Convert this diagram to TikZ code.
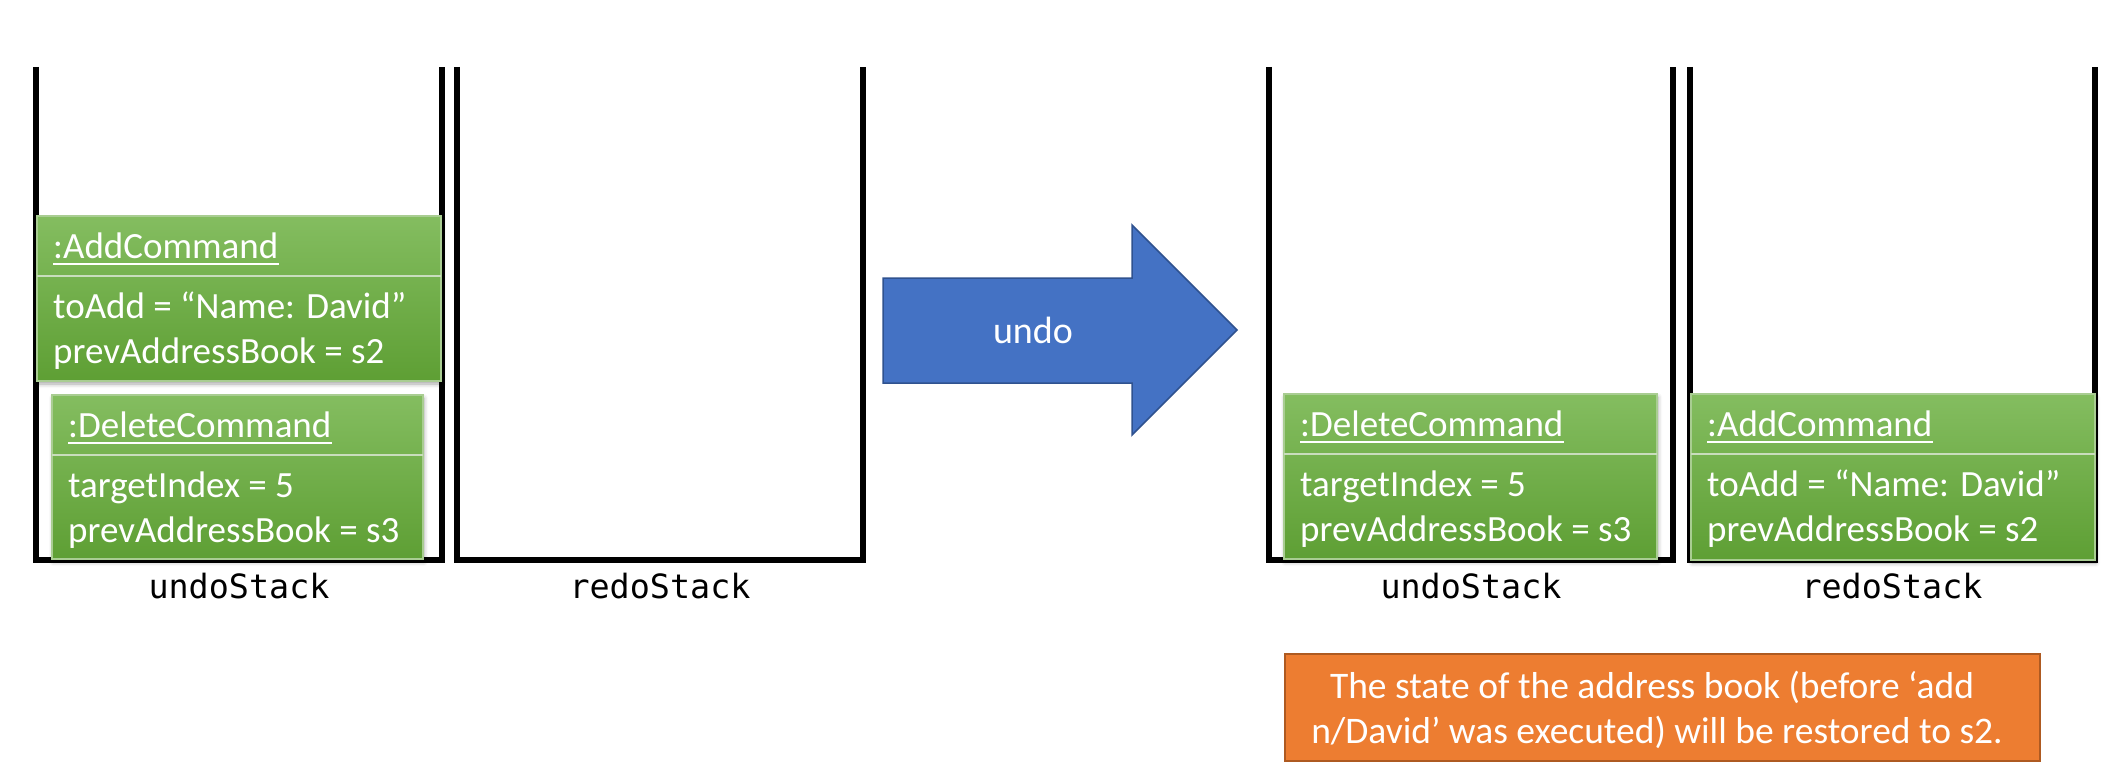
\documentclass[tikz,border=0pt]{standalone}
\usepackage{fontspec}
\setmainfont{Carlito}
\newfontfamily\monofont{DejaVu Sans Mono}
\usetikzlibrary{shadows.blur}
\definecolor{gtop}{HTML}{84BD60}
\definecolor{gbot}{HTML}{5E9F34}
\definecolor{gline}{HTML}{A9CD92}
\definecolor{gdiv}{HTML}{C9DDBD}
\definecolor{ablue}{HTML}{4472C4}
\definecolor{ablueb}{HTML}{2F528F}
\definecolor{orfill}{HTML}{ED7D31}
\definecolor{orline}{HTML}{AE5A21}
\tikzset{
  wall/.style={line width=6pt, black, line join=miter},
  cmdfill/.style={top color=gtop, bottom color=gbot, draw=gline, line width=1.5pt,
    blur shadow={shadow xshift=1pt, shadow yshift=-3pt, shadow blur radius=4pt, shadow opacity=35}},
  divline/.style={draw=gdiv, line width=2pt},
  cmdtext/.style={inner sep=0pt, anchor=base west, text=white, font=\fontsize{37}{45}\selectfont},
  ulinest/.style={white, line width=2.5pt},
  stacklabel/.style={inner sep=0pt, anchor=base, font=\monofont\fontsize{33.4}{40}\selectfont},
  arrowst/.style={fill=ablue, draw=ablueb, line width=1.5pt, line join=miter},
  undotext/.style={inner sep=0pt, anchor=base, text=white, font=\fontsize{38}{45}\selectfont},
  orbox/.style={fill=orfill, draw=orline, line width=2pt, inner sep=0pt},
  notetext/.style={inner sep=0pt, anchor=base, text=white, font=\fontsize{37.5}{45}\selectfont}
}
\newcommand{\cmdbox}[8]{%
  \path[cmdfill] (#2,#3) rectangle (#4,#5);
  \draw[divline] (#2,#3+60) -- (#4,#3+60);
  \node[cmdtext] (#1h) at (#2+16,#3+42) {#6};
  \draw[ulinest] ([yshift=-6pt]#1h.base west) -- ([yshift=-6pt]#1h.base east);
  \node[cmdtext] (#1a) at (#2+16,#3+102) {#7};
  \node[cmdtext] (#1b) at (#2+16,#3+147) {#8};
}
\begin{document}
\begin{tikzpicture}[x=1pt,y=-1pt]
\useasboundingbox (0,0) rectangle (2121,776);
% stacks
\draw[wall] (36,67) -- (36,560) -- (442,560) -- (442,67);
\draw[wall] (457,67) -- (457,560) -- (863,560) -- (863,67);
\draw[wall] (1269,67) -- (1269,560) -- (1673,560) -- (1673,67);
\draw[wall] (1690,67) -- (1690,560) -- (2095,560) -- (2095,67);
% left undo stack contents
\cmdbox{la}{37}{216}{441}{381}{:AddCommand}{toAdd = “Name: David”}{prevAddressBook = s2}
\cmdbox{ld}{52}{395}{423}{559}{:DeleteCommand}{targetIndex = 5}{prevAddressBook = s3}
% right stacks contents
\cmdbox{rd}{1284}{394}{1657}{559}{:DeleteCommand}{targetIndex = 5}{prevAddressBook = s3}
\cmdbox{ra}{1691}{394}{2095}{560}{:AddCommand}{toAdd = “Name: David”}{prevAddressBook = s2}
% labels
\node[stacklabel] (lu) at (239,598) {undoStack};
\node[stacklabel] (lr) at (660,598) {redoStack};
\node[stacklabel] (ru) at (1471,598) {undoStack};
\node[stacklabel] (rr) at (1892,598) {redoStack};
% arrow
\draw[arrowst] (883,278) -- (1132,278) -- (1132,225) -- (1237,330) -- (1132,435) -- (1132,383) -- (883,383) -- cycle;
\node[undotext] (undo) at (1033,343) {undo};
% note
\node[orbox, minimum width=755pt, minimum height=107pt] (note) at (1662.5,707.5) {};
\node[notetext] (note1) at (1652,698) {The state of the address book (before ‘add};
\node[notetext] (note2) at (1657,743) {n/David’ was executed) will be restored to s2.};
\end{tikzpicture}
\end{document}
